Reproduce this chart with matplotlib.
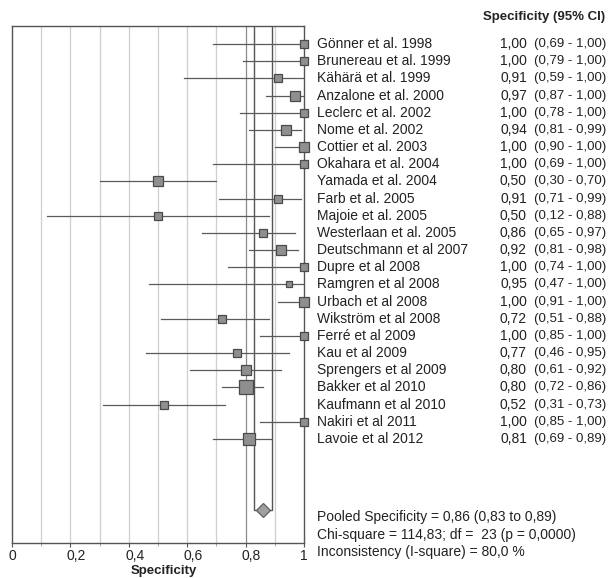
import matplotlib
matplotlib.use("Agg")
import matplotlib.pyplot as plt
import matplotlib.transforms as mtransforms
import numpy as np

plt.rcParams['font.family'] = ['Liberation Sans', 'DejaVu Sans']

studies = ["Gönner et al. 1998", "Brunereau et al. 1999", "Kähärä et al. 1999",
           "Anzalone et al. 2000", "Leclerc et al. 2002", "Nome et al. 2002",
           "Cottier et al. 2003", "Okahara et al. 2004", "Yamada et al. 2004",
           "Farb et al. 2005", "Majoie et al. 2005", "Westerlaan et al. 2005",
           "Deutschmann et al 2007", "Dupre et al 2008", "Ramgren et al 2008",
           "Urbach et al 2008", "Wikström et al 2008", "Ferré et al 2009",
           "Kau et al 2009", "Sprengers et al 2009", "Bakker et al 2010",
           "Kaufmann et al 2010", "Nakiri et al 2011", "Lavoie et al 2012"]
spec = [1.00, 1.00, 0.91, 0.97, 1.00, 0.94, 1.00, 1.00, 0.50, 0.91, 0.50, 0.86,
        0.92, 1.00, 0.95, 1.00, 0.72, 1.00, 0.77, 0.80, 0.80, 0.52, 1.00, 0.81]
ci_low = [0.69, 0.79, 0.59, 0.87, 0.78, 0.81, 0.90, 0.69, 0.30, 0.71, 0.12, 0.65,
          0.81, 0.74, 0.47, 0.91, 0.51, 0.85, 0.46, 0.61, 0.72, 0.31, 0.85, 0.69]
ci_high = [1.00, 1.00, 1.00, 1.00, 1.00, 0.99, 1.00, 1.00, 0.70, 0.99, 0.88, 0.97,
           0.98, 1.00, 1.00, 1.00, 0.88, 1.00, 0.95, 0.92, 0.86, 0.73, 1.00, 0.89]
weights = [16, 16, 16, 28, 16, 25, 23, 16, 25, 20, 16, 20,
           30, 16, 12, 30, 20, 16, 16, 25, 44, 20, 20, 36]

pooled = 0.86
pooled_low = 0.83
pooled_high = 0.89
stats_lines = ["Pooled Specificity = 0,86 (0,83 to 0,89)",
               "Chi-square = 114,83; df =  23 (p = 0,0000)",
               "Inconsistency (I-square) = 80,0 %"]
xticks = [0, 0.2, 0.4, 0.6, 0.8, 1]
xticklabels = ["0", "0,2", "0,4", "0,6", "0,8", "1"]


def fmt(v):
    return f"{v:.2f}".replace(".", ",")


fig = plt.figure(figsize=(6.10, 5.78), dpi=100)
ax = fig.add_axes([12 / 610, 35 / 578, 292 / 610, 517 / 578])

n = len(studies)
ypos = np.arange(n)
dark = '#555555'
txt = '#222222'
fs = 10

# grid lines
for g in np.arange(0.1, 1.0, 0.1):
    col = '#8a8a8a' if abs(g - 0.8) < 1e-6 else '#cfcfcf'
    ax.axvline(g, color=col, lw=0.9, zorder=0)

# pooled CI band lines
y_pool = 27.14
ax.plot([pooled_low, pooled_low, pooled_high, pooled_high],
        [-1.05, y_pool, y_pool, -1.05], color=dark, lw=1.0, zorder=1)

# CI lines and squares
for i in range(n):
    ax.plot([ci_low[i], ci_high[i]], [ypos[i], ypos[i]], color='#5a5a5a', lw=0.9, zorder=2)
    ms = 2.0 * np.sqrt(weights[i]) * 72 / 100
    ax.plot(spec[i], ypos[i], marker='s', ms=ms, mfc='#8f8f8f', mec='#4a4a4a',
            mew=0.9, zorder=3, clip_on=False)

ax.plot(pooled, y_pool, marker='D', ms=7.5, mfc='#a0a0a0', mec='#606060', mew=0.9, zorder=4)

ax.set_xlim(0, 1)
ax.set_ylim(29.06, -1.05)
ax.set_yticks([])
ax.set_xticks(xticks)
ax.set_xticklabels(xticklabels, fontsize=fs, color=txt)
ax.set_xticks(np.arange(0.1, 1.0, 0.2), minor=True)
ax.tick_params(axis='x', length=3, color=dark, pad=1.5)
ax.tick_params(axis='x', which='minor', length=2, color='#999999')
# first digit of each label sits on its tick
shift = mtransforms.ScaledTranslation(-3.8 / 100, 0, fig.dpi_scale_trans)
for lab in ax.get_xticklabels():
    lab.set_horizontalalignment('left')
    lab.set_transform(lab.get_transform() + shift)
for s in ax.spines.values():
    s.set_color(dark)
    s.set_linewidth(1.0)
ax.set_xlabel("Specificity", fontsize=9.5, fontweight='bold', color=txt)
ax.xaxis.set_label_coords(0.52, -0.042)

# table text to the right of the plot
x_name = (317 - 12) / 292
x_val = (527 - 12) / 292
x_ci = (534 - 12) / 292
x_head = (483 - 12) / 292
ax.text(x_head, -1.57, "Specificity (95% CI)", fontsize=9.5, fontweight='bold',
        color=txt, va='center', ha='left', clip_on=False)
for i in range(n):
    ax.text(x_name, ypos[i], studies[i], fontsize=fs, color=txt, va='center',
            ha='left', clip_on=False)
    ax.text(x_val, ypos[i], fmt(spec[i]), fontsize=fs, color=txt, va='center',
            ha='right', clip_on=False)
    ax.text(x_ci, ypos[i], f"({fmt(ci_low[i])} - {fmt(ci_high[i])})", fontsize=9.5,
            color=txt, va='center', ha='left', clip_on=False)

for k, line in enumerate(stats_lines):
    ax.text(x_name, 27.55 + k * 1.03, line, fontsize=fs, color=txt, va='center',
            ha='left', clip_on=False)

fig.savefig("out.png", dpi=100)
